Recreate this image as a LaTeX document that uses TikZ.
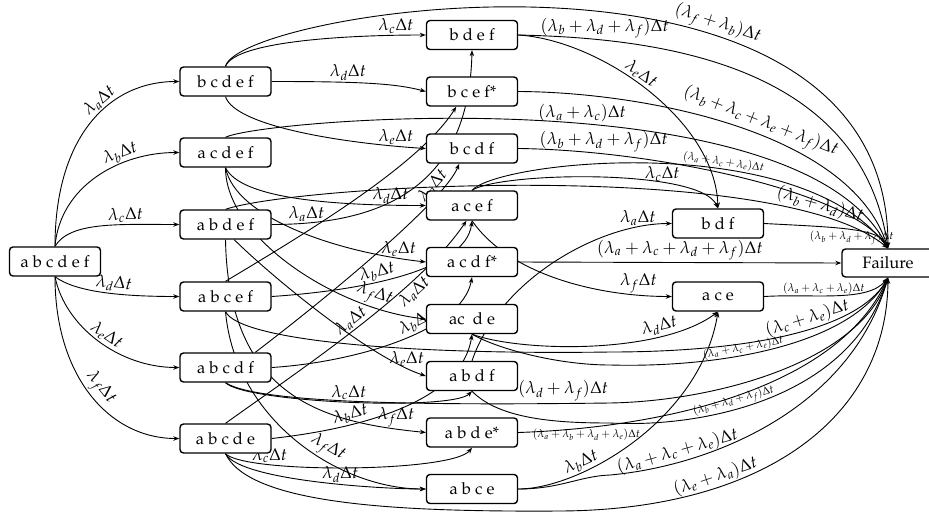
\documentclass[tikz,border=0pt]{standalone}
\usepackage[T1]{fontenc}
\usepackage{mathpazo}
\usetikzlibrary{arrows.meta,backgrounds}
\tikzset{
 st/.style={draw, line width=1.4pt, rounded corners=3.5pt, fill=white, minimum width=91pt, minimum height=29pt, inner sep=0pt, font=\fontsize{16.5}{18}\selectfont},
 e/.style={line width=0.9pt, -{Stealth[length=6pt,width=4.5pt]}},
 lb/.style={font=\fontsize{17}{18}\selectfont, inner sep=1.5pt},
 sm/.style={font=\fontsize{11}{12}\selectfont, inner sep=1pt},
}
\begin{document}
\begin{tikzpicture}[x=1pt,y=-1pt]
\useasboundingbox (0,0) rectangle (929,517);
\node[st] (s0) at (55,261.5) {a b c d e f};
\node[st] (n1) at (225.5,81.5) {b c d e f};
\node[st] (n2) at (225.5,152.5) {a c d e f};
\node[st] (n3) at (225.5,224.5) {a b d e f};
\node[st] (n4) at (225.5,296.5) {a b c e f};
\node[st] (n5) at (225.5,367.5) {a b c d f};
\node[st] (n6) at (225.5,438.5) {a b c d e};
\node[st] (m1) at (472,35) {b d e f};
\node[st] (m2) at (472,91.5) {b c e f*};
\node[st] (m3) at (472,148.5) {b c d f};
\node[st] (m4) at (472,205.5) {a c e f};
\node[st] (m5) at (472,262) {a c d f*};
\node[st] (m6) at (472,319) {ac\ \ d e};
\node[st] (m7) at (472,376) {a b d f};
\node[st] (m8) at (472,432.5) {a b d e*};
\node[st] (m9) at (472,489) {a b c e};
\node[st] (t1) at (718,223.5) {b d f};
\node[st] (t2) at (718,296.5) {a c e};
\node[st, minimum width=92pt, minimum height=28pt] (F) at (888,263) {Failure};
\begin{pgfonlayer}{background}
% fan from abcdef
\draw[e] (s0.north) .. controls +(0,-110) and +(-70,0) .. (n1.west) node[lb,pos=.6,sloped,above]{$\lambda_a\Delta t$};
\draw[e] (s0.north) .. controls +(5,-60) and +(-60,0) .. (n2.west) node[lb,pos=.68,sloped,above]{$\lambda_b\Delta t$};
\draw[e] (s0.north) .. controls +(15,-25) and +(-60,0) .. (n3.west) node[lb,pos=.68,sloped,above]{$\lambda_c\Delta t$};
\draw[e] (s0.south) .. controls +(20,15) and +(-60,0) .. (n4.west) node[lb,pos=.58,sloped,above]{$\lambda_d\Delta t$};
\draw[e] (s0.south) .. controls +(10,50) and +(-60,0) .. (n5.west) node[lb,pos=.52,sloped,above]{$\lambda_e\Delta t$};
\draw[e] (s0.south) .. controls +(0,100) and +(-70,0) .. (n6.west) node[lb,pos=.5,sloped,above]{$\lambda_f\Delta t$};
% bcdef
\draw[e] (n1.north) .. controls +(10,-25) and +(-80,0) .. (m1.west) node[lb,pos=.88,above]{$\lambda_c\Delta t$};
\draw[e] (n1.north) .. controls +(14.5,-57) and +(0,-339) .. (F.north) node[lb,pos=.66,sloped,above]{$(\lambda_f+\lambda_b)\Delta t$};
\draw[e] (n1.east) .. controls +(90,0) and +(-30,-8) .. (m2.west) node[lb,pos=.35,above]{$\lambda_d\Delta t$};
\draw[e] (n1.south) .. controls +(10,30) and +(-80,-5) .. (m3.west) node[lb,pos=.88,above]{$\lambda_e\Delta t$};
% acdef
\draw[e] (n2.north) .. controls +(35,-18) and +(-88,-174) .. (F.north) node[lb,pos=.55,above]{$(\lambda_a+\lambda_c)\Delta t$};
\draw[e] (n2.south) .. controls +(15,30) and +(-100,0) .. (m4.west) node[lb,pos=.88,above]{$\lambda_d\Delta t$};
\draw[e] (n2.south) .. controls +(10,50) and +(-90,-10) .. (m5.west) node[lb,pos=.9,above]{$\lambda_e\Delta t$};
\draw[e] (n2.south) .. controls +(0,70) and +(-90,-10) .. (m6.west) node[lb,pos=.8,sloped,above]{$\lambda_f\Delta t$};
% abdef
\draw[e] (n3.north) .. controls +(75,-25) and +(-108,-90) .. (F.north) node[lb,pos=.85,sloped,above]{$(\lambda_b+\lambda_d)\Delta t$};
\draw[e] (n3.east) .. controls +(120,0) and +(-3,130) .. (m1.south) node[lb,pos=.1,above]{$\lambda_a\Delta t$};
\draw[e] (n3.-60) .. controls +(30,30) and +(-60,-20) .. (m7.west) node[lb,pos=.9,above]{$\lambda_e\Delta t$};
\draw[e] (n3.south) .. controls +(3,160) and +(-100,-10) .. (m8.west) node[lb,pos=.9,above]{$\lambda_f\Delta t$};
% abcef
\draw[e] (n4.north) .. controls +(75,-45) and +(-37,59) .. (m2.-136);
\draw[e] (n4.east) .. controls +(90,-6) and +(-6,50) .. (m4.south) node[lb,pos=.4,sloped,above]{$\lambda_b\Delta t$};
\draw[e] (n4.south) .. controls +(10,110) and +(-85,0) .. (m9.west) node[lb,pos=.6,sloped,above]{$\lambda_f\Delta t$};
\draw[e] (n4.south) .. controls (240,340) and (400,355) .. (610,352) .. controls (730,352) and (855,335) .. (F.south) node[lb,pos=.6,sloped,above]{$(\lambda_c+\lambda_e)\Delta t$};
% abcdf
\draw[e] (n5.27) .. controls +(76,-58) and +(-15,37) .. (m3.-130) node[lb,pos=.8,sloped,above]{$\lambda_a\Delta t$};
\draw[e] (n5.east) .. controls +(80,-5) and +(-10,55) .. (m5.south) node[lb,pos=.6,sloped,above]{$\lambda_b\Delta t$};
\draw[e] (n5.south) .. controls +(20,20) and +(-20,20) .. (m7.south) node[lb,pos=.5,above]{$\lambda_c\Delta t$};
\draw[e] (n5.south) .. controls (260,405) and (450,405) .. (610,403) node[lb,anchor=south east]{$(\lambda_d+\lambda_f)\Delta t$} .. controls (720,401) and (860,360) .. (F.south);
% abcde
\draw[e] (n6.north) .. controls (300,370) and (420,290) .. (m4.-110) node[lb,pos=.5,sloped,above]{$\lambda_a\Delta t$} node[lb,pos=.7,sloped,below]{$\lambda_a\Delta t$};
\draw[e] (n6.east) .. controls +(90,-10) and +(-10,67) .. (m6.south) node[lb,pos=.3,sloped,above]{$\lambda_b\Delta t$};
\draw[e] (n6.south) .. controls +(20,20) and +(-20,25) .. (m8.south) node[lb,pos=.25,above]{$\lambda_c\Delta t$};
\draw[e] (n6.south) .. controls +(15,27) and +(-45,0) .. (m9.west) node[lb,pos=.6,above]{$\lambda_d\Delta t$};
\draw[e] (n6.south) .. controls (250,505) and (400,512) .. (560,511) .. controls (760,510) and (887,420) .. (F.south) node[lb,pos=.3,sloped,above]{$(\lambda_e+\lambda_a)\Delta t$};
% column 2, upper
\draw[e] (m1.east) .. controls (650,38) and (860,60) .. (F.north) node[lb,pos=.2,above]{$(\lambda_b+\lambda_d+\lambda_f)\Delta t$};
\draw[e] (m1.east) .. controls (600,40) and (715,120) .. (t1.north) node[lb,pos=.45,sloped,above]{$\lambda_e\Delta t$};
\draw[e] (m2.east) .. controls (640,92) and (850,130) .. (F.north) node[lb,pos=.55,sloped,above]{$(\lambda_b+\lambda_c+\lambda_e+\lambda_f)\Delta t$};
\draw[e] (m3.east) .. controls (650,150) and (850,190) .. (F.north) node[lb,pos=.2,above]{$(\lambda_b+\lambda_d+\lambda_f)\Delta t$};
\draw[e] (m4.north) .. controls (500,160) and (800,130) .. (F.north) node[sm,pos=.62,sloped,above]{$(\lambda_a+\lambda_c+\lambda_e)\Delta t$};
\draw[e] (m4.north) .. controls (500,172) and (700,168) .. (t1.north) node[lb,pos=.7,above]{$\lambda_c\Delta t$};
\draw[e] (m4.south) .. controls +(38,55) and +(-72,0) .. (t2.west) node[lb,pos=.85,above]{$\lambda_f\Delta t$};
\draw[e] (m5.east) -- (F.west) node[lb,pos=.5,above]{$(\lambda_a+\lambda_c+\lambda_d+\lambda_f)\Delta t$};
% column 2, lower
\draw[e] (m6.south) .. controls (500,350) and (560,365) .. (610,365) .. controls (720,368) and (850,345) .. (F.south) node[sm,pos=.4,sloped,above]{$(\lambda_a+\lambda_c+\lambda_e)\Delta t$};
\draw[e] (m6.south) .. controls (520,352) and (660,355) .. (t2.south) node[lb,pos=.75,sloped,above]{$\lambda_d\Delta t$};
\draw[e] (m7.north) .. controls +(28,-82) and +(-72,0) .. (t1.west) node[lb,pos=.85,above]{$\lambda_a\Delta t$};
\draw[e] (m7.south) .. controls (500,420) and (560,423) .. (610,423) .. controls (700,428) and (850,400) .. (F.south) node[sm,pos=.4,sloped,above]{$(\lambda_b+\lambda_d+\lambda_f)\Delta t$};
\draw[e] (m8.east) .. controls (667.5,427.5) and (838,387) .. (F.south) node[sm,pos=.15,below]{$(\lambda_a+\lambda_b+\lambda_d+\lambda_e)\Delta t$};
\draw[e] (m9.east) .. controls (560,489) and (580,476) .. (610,475) .. controls (710,466) and (850,410) .. (F.south) node[lb,pos=.22,sloped,above]{$(\lambda_a+\lambda_c+\lambda_e)\Delta t$};
\draw[e] (m9.east) .. controls (580,489) and (700,420) .. (t2.south) node[lb,pos=.3,sloped,above]{$\lambda_b\Delta t$};
% column 3
\draw[e] (t1.east) .. controls +(76,4) and +(-8,-20) .. (F.north) node[sm,pos=.5,below]{$(\lambda_b+\lambda_d+\lambda_f)\Delta t$};
\draw[e] (t2.east) .. controls +(50,-3) and +(-20,25) .. (F.south) node[sm,pos=.4,above]{$(\lambda_a+\lambda_c+\lambda_e)\Delta t$};
\end{pgfonlayer}
\end{tikzpicture}
\end{document}
